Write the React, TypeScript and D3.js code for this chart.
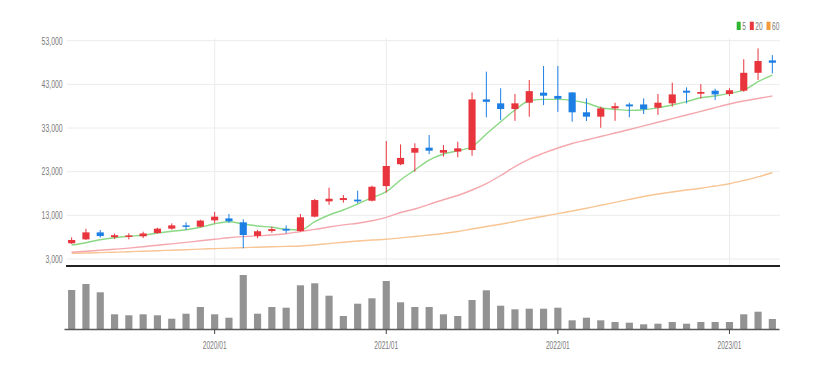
import React from 'react';
import * as d3 from 'd3';

// monthly candles, 2019/03 .. 2023/04
const months = [
  '2019/03', '2019/04', '2019/05', '2019/06', '2019/07', '2019/08', '2019/09', '2019/10', '2019/11', '2019/12',
  '2020/01', '2020/02', '2020/03', '2020/04', '2020/05', '2020/06', '2020/07', '2020/08', '2020/09', '2020/10',
  '2020/11', '2020/12', '2021/01', '2021/02', '2021/03', '2021/04', '2021/05', '2021/06', '2021/07', '2021/08',
  '2021/09', '2021/10', '2021/11', '2021/12', '2022/01', '2022/02', '2022/03', '2022/04', '2022/05', '2022/06',
  '2022/07', '2022/08', '2022/09', '2022/10', '2022/11', '2022/12', '2023/01', '2023/02', '2023/03', '2023/04',
];

const opens = [
  6600, 7500, 9100, 8000, 8100, 8200, 8950, 9950, 10700, 10400,
  11850, 12300, 11400, 8300, 9400, 9900, 9400, 12700, 16200, 16500,
  16600, 16350, 19700, 24700, 27350, 28500, 27350, 27600, 27950, 39550,
  38650, 37350, 38800, 41100, 40350, 41150, 36600, 35600, 37500, 38400,
  38400, 37650, 38650, 41550, 40850, 41550, 40800, 41550, 45650, 48500,
];
const highs = [
  7950, 9900, 9650, 8800, 8900, 9250, 10150, 11150, 11400, 12000,
  13800, 13300, 12100, 9650, 10400, 10700, 13300, 16750, 19350, 17650,
  18650, 19800, 30000, 29250, 29500, 31400, 29100, 29850, 41150, 45900,
  42100, 40800, 44000, 47200, 47200, 41200, 39800, 37900, 38800, 38800,
  39800, 40800, 43400, 42300, 43050, 42000, 42100, 48750, 51250, 49700,
];
const lows = [
  6450, 7350, 7900, 7600, 7500, 7800, 8800, 9700, 9700, 10250,
  11200, 11300, 5450, 7750, 9000, 8900, 9250, 12550, 15400, 15900,
  15800, 16200, 18200, 24500, 23000, 27000, 26450, 26300, 26650, 35450,
  34800, 34650, 35600, 38250, 36700, 34450, 34600, 33050, 34650, 35450,
  36200, 36000, 37900, 38650, 39800, 39400, 40350, 41300, 44000, 45500,
];
const closes = [
  7350, 9100, 8250, 8450, 8400, 8850, 9950, 10700, 10400, 11800,
  12700, 11650, 8500, 9350, 9850, 9500, 12550, 16500, 16800, 16950,
  16200, 19550, 24300, 26150, 28400, 27800, 27950, 28350, 39550, 39000,
  37350, 38650, 41450, 40400, 39700, 36600, 35600, 37500, 38000, 37950,
  37300, 38800, 40700, 41100, 41250, 40700, 41650, 45650, 48350, 47950,
];
const volumes = [
  3900, 4500, 3670, 1470, 1370, 1470, 1370, 1030, 1530, 2200,
  1470, 1130, 5400, 1530, 2200, 2130, 4370, 4570, 3330, 1300,
  2530, 3070, 4800, 2670, 2200, 2200, 1470, 1300, 2900, 3870,
  2330, 1970, 2030, 2030, 2130, 870, 1130, 870, 700, 630,
  470, 530, 700, 530, 700, 700, 700, 1470, 1730, 1000,
];

// moving averages as drawn
const ma5 = [
  6200, 6730, 7420, 7880, 8200, 8430, 8950, 9340, 9710, 10260,
  11080, 11540, 11010, 10560, 10260, 9800, 9640, 11540, 13080, 14220,
  15600, 17040, 18410, 21090, 23380, 25670, 27050, 27800, 28720, 31630,
  34440, 37120, 39250, 39570, 39570, 39340, 38720, 37650, 37280, 37050,
  37190, 37650, 38270, 39030, 39940, 40330, 40940, 41700, 43600, 45130,
];
const ma20 = [
  4530, 4760, 5010, 5240, 5500, 5820, 6160, 6460, 6800, 7170,
  7510, 7880, 8130, 8310, 8500, 8770, 9300, 9780, 10330, 10810,
  11200, 11770, 12550, 13650, 14450, 15530, 16580, 17540, 18800, 20290,
  22120, 24180, 25900, 27230, 28420, 29450, 30250, 31050, 31850, 32660,
  33500, 34330, 35150, 35980, 36820, 37670, 38500, 39180, 39760, 40330,
];
const ma60 = [
  4310, 4370, 4470, 4560, 4670, 4790, 4900, 5020, 5130, 5270,
  5380, 5500, 5610, 5700, 5790, 5890, 5980, 6210, 6530, 6850,
  7120, 7350, 7510, 7830, 8150, 8500, 8840, 9300, 9870, 10440,
  10970, 11590, 12210, 12800, 13400, 13990, 14610, 15300, 15960, 16650,
  17310, 17890, 18340, 18800, 19210, 19720, 20240, 20980, 21820, 22760,
];

const priceTicks = [3000, 13000, 23000, 33000, 43000, 53000];
const xTickLabels = ['2020/01', '2021/01', '2022/01', '2023/01'];
const maLabels = ['5', '20', '60'];
const maColors = ['#8bd885', '#f5a7ae', '#f8c594'];
const legendColors = ['#2fb52f', '#e8373f', '#f39a3a'];

const UP = '#e8343c';
const DOWN = '#1d7fe3';
const FONT = "'Liberation Sans', Arial, sans-serif";

export default function App() {
  const plotLeft = 64.5;
  const plotRight = 779.5;

  const x = d3
    .scaleBand<string>()
    .domain(months)
    .range([plotLeft, plotRight])
    .paddingInner(0.5)
    .paddingOuter(0.25);
  const bw = x.bandwidth();
  const cx = (m: string) => (x(m) as number) + bw / 2;

  const y = d3.scaleLinear().domain([3000, 53000]).range([259, 40.7]);
  const yVol = d3.scaleLinear().domain([0, 5400]).range([329, 275]);

  const maSeries = [ma5, ma20, ma60].map((vals, k) => ({
    label: maLabels[k],
    color: maColors[k],
    values: vals,
  }));

  const line = d3
    .line<number>()
    .x((_, i) => cx(months[i]))
    .y((v) => y(v))
    .curve(d3.curveMonotoneX);

  const fmt = d3.format(',');

  // legend item positions
  let lx = 736.7;
  const legend = maLabels.map((lab, k) => {
    const item = { lab, color: legendColors[k], x: lx };
    lx += 4 + 1.5 + lab.length * 3.6 + 4;
    return item;
  });

  return (
    <svg
      width={822}
      height={370}
      xmlns="http://www.w3.org/2000/svg"
      style={{ position: 'absolute', left: 0, top: 0, background: '#fff' }}
    >
      {/* horizontal grid + price labels */}
      {priceTicks.map((t) => (
        <g key={t}>
          <line x1={67} x2={780} y1={y(t)} y2={y(t)} stroke="#ececec" strokeWidth={1} />
          <text
            transform={`translate(62.7,${y(t) + 3.8}) scale(0.6,1)`}
            textAnchor="end"
            fontSize={11.5}
            fontFamily={FONT}
            fill="#7a7a7a"
          >
            {fmt(t)}
          </text>
        </g>
      ))}

      {/* vertical year grid lines */}
      {xTickLabels.map((m) => (
        <line key={m} x1={cx(m)} x2={cx(m)} y1={38} y2={265} stroke="#ececec" strokeWidth={1} />
      ))}

      {/* moving averages */}
      {maSeries.slice().reverse().map((s) => (
        <path
          key={s.label}
          d={line(s.values) as string}
          fill="none"
          stroke={s.color}
          strokeWidth={1.4}
        />
      ))}

      {/* candles */}
      {months.map((m, i) => {
        const up = closes[i] >= opens[i];
        const c = up ? UP : DOWN;
        const top = y(Math.max(opens[i], closes[i]));
        const bot = y(Math.min(opens[i], closes[i]));
        return (
          <g key={m}>
            <line x1={cx(m)} x2={cx(m)} y1={y(highs[i])} y2={y(lows[i])} stroke={c} strokeWidth={1} />
            <rect x={x(m)} y={top} width={bw} height={Math.max(1.5, bot - top)} fill={c} />
          </g>
        );
      })}

      {/* separator between panes */}
      <line x1={66} x2={780} y1={266} y2={266} stroke="#222" strokeWidth={2} />

      {/* volume bars */}
      {months.map((m, i) => (
        <rect
          key={m}
          x={x(m)}
          y={yVol(volumes[i])}
          width={bw}
          height={yVol(0) - yVol(volumes[i])}
          fill="#939393"
        />
      ))}
      <line x1={plotLeft} x2={plotRight} y1={329.5} y2={329.5} stroke="#5a5a5a" strokeWidth={1.5} />

      {/* x axis ticks and labels */}
      {xTickLabels.map((m) => (
        <g key={m}>
          <line x1={cx(m)} x2={cx(m)} y1={329.5} y2={334} stroke="#444" strokeWidth={1} />
          <text
            transform={`translate(${cx(m)},348.5) scale(0.6,1)`}
            textAnchor="middle"
            fontSize={11}
            fontFamily={FONT}
            fill="#7a7a7a"
          >
            {m}
          </text>
        </g>
      ))}

      {/* legend */}
      {legend.map((it) => (
        <g key={it.lab}>
          <rect x={it.x} y={21.7} width={4} height={8.3} fill={it.color} />
          <text
            transform={`translate(${it.x + 5.5},30) scale(0.66,1)`}
            fontSize={10}
            fontFamily={FONT}
            fill="#777"
          >
            {it.lab}
          </text>
        </g>
      ))}
    </svg>
  );
}
